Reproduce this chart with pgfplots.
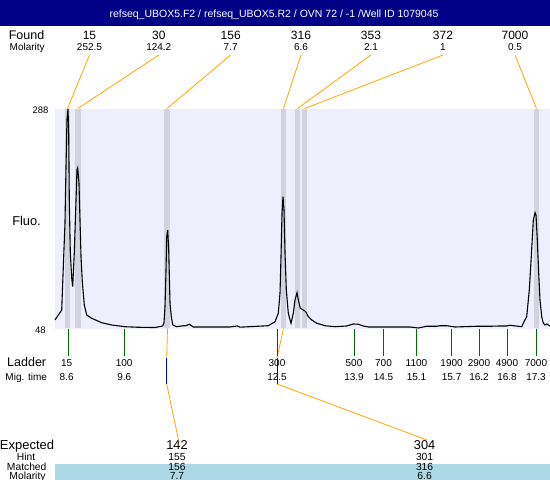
\documentclass[border=0pt]{standalone}
\usepackage{fontspec}
\setmainfont{Liberation Sans}
\usepackage{pgfplots}
\usepackage{pgfplotstable}
\pgfplotsset{compat=1.18}
\definecolor{hdr}{RGB}{0,0,135}
\definecolor{plotbg}{RGB}{238,238,252}
\definecolor{band}{RGB}{211,211,224}
\definecolor{conn}{RGB}{255,165,0}
\definecolor{ladg}{RGB}{0,105,0}
\definecolor{matchbg}{RGB}{173,216,230}
\newcommand\fs[1]{\fontsize{#1}{#1}\selectfont}

% electropherogram trace: migration time (s) vs fluorescence
\pgfplotstableread{
t v
8.358 56.8
8.483 67.7
8.513 115.2
8.544 163.1
8.563 224.8
8.581 276.0
8.600 288.0
8.613 261.7
8.624 188.3
8.643 130.2
8.669 102.8
8.687 93.3
8.717 130.2
8.743 177.3
8.767 221.2
8.780 223.4
8.804 206.9
8.823 166.4
8.842 126.1
8.866 98.7
8.903 73.2
8.948 62.2
9.041 58.6
9.226 53.8
9.412 51.3
9.659 49.4
9.907 48.8
10.217 48.5
10.360 50.2
10.384 53.5
10.403 71.3
10.422 111.6
10.435 148.1
10.453 155.4
10.472 133.5
10.496 75.4
10.520 60.4
10.546 51.3
10.620 49.4
10.743 50.5
10.793 50.5
10.855 52.1
10.929 49.1
11.611 49.1
11.747 50.2
11.797 48.9
12.323 50.5
12.448 54.9
12.509 64.1
12.541 86.4
12.559 126.1
12.578 173.7
12.596 191.9
12.615 177.3
12.634 129.9
12.658 89.6
12.695 64.1
12.745 53.2
12.788 64.1
12.819 78.7
12.857 86.7
12.881 78.7
12.918 69.6
12.974 67.7
13.018 65.9
13.067 60.4
13.130 56.8
13.223 53.2
13.377 50.5
13.563 49.4
13.780 50.2
13.903 52.4
13.996 52.1
14.089 50.2
14.182 49.1
14.957 49.1
15.111 48.0
15.267 49.9
15.453 49.9
15.515 50.5
15.639 50.5
15.793 49.1
16.197 49.9
16.444 49.9
16.630 50.2
16.754 50.2
16.816 51.0
17.033 49.4
17.076 54.9
17.126 60.4
17.174 89.6
17.200 115.2
17.225 140.8
17.249 166.4
17.281 174.4
17.299 171.8
17.323 144.4
17.349 108.0
17.373 78.7
17.405 60.4
17.435 53.2
17.466 51.3
17.498 52.4
17.559 50.2
}\trace

\begin{document}
\begin{tikzpicture}
% ---------- canvas axis (pixel coordinates, y downward) ----------
\begin{axis}[name=canvas, at={(0,0)}, anchor=south west,
  width=550pt, height=480pt, scale only axis,
  xmin=0, xmax=550, ymin=0, ymax=480, y dir=reverse,
  hide axis, clip=false]
  \coordinate (cnw) at (axis cs:0,0);
  \coordinate (cse) at (axis cs:550,480);
  \coordinate (pnw) at (axis cs:55,109);
  % header
  \fill[hdr] (axis cs:0,0) rectangle (axis cs:550,26);
  \node[white, anchor=base, inner sep=0, font=\fs{10.5}] at (axis cs:274,17.5)
    {refseq\_UBOX5.F2 / refseq\_UBOX5.R2 / OVN 72 / -1 /Well ID 1079045};
  % plot background
  \fill[plotbg] (axis cs:55,109) rectangle (axis cs:550,328.5);
  % matched band
  \fill[matchbg] (axis cs:55,463.5) rectangle (axis cs:550,480);
  % Found / Molarity rows
  \begin{scope}[every node/.style={anchor=base, inner sep=0}]
  \node[font=\fs{12.5}] at (axis cs:26.5,39) {Found};
  \node[font=\fs{10}] at (axis cs:27.2,50) {Molarity};
  \node[font=\fs{12}] at (axis cs:89.5,39) {15};
  \node[font=\fs{12}] at (axis cs:158.8,39) {30};
  \node[font=\fs{12}] at (axis cs:230.7,39) {156};
  \node[font=\fs{12}] at (axis cs:301,39) {316};
  \node[font=\fs{12}] at (axis cs:371,39) {353};
  \node[font=\fs{12}] at (axis cs:443,39) {372};
  \node[font=\fs{12}] at (axis cs:515,39) {7000};
  \node[font=\fs{10}] at (axis cs:89.5,50.5) {252.5};
  \node[font=\fs{10}] at (axis cs:158.8,50.5) {124.2};
  \node[font=\fs{10}] at (axis cs:230.7,50.5) {7.7};
  \node[font=\fs{10}] at (axis cs:301,50.5) {6.6};
  \node[font=\fs{10}] at (axis cs:371,50.5) {2.1};
  \node[font=\fs{10}] at (axis cs:443,50.5) {1};
  \node[font=\fs{10}] at (axis cs:515,50.5) {0.5};
  % y labels
  \node[font=\fs{9.5}] at (axis cs:40.5,113.3) {288};
  \node[font=\fs{9.5}] at (axis cs:40.5,333.3) {48};
  \node[font=\fs{12.8}] at (axis cs:26.5,225) {Fluo.};
  % ladder rows
  \node[font=\fs{12.5}] at (axis cs:26.7,366.7) {Ladder};
  \node[font=\fs{10}] at (axis cs:26.2,380) {Mig. time};
  \node[font=\fs{10}] at (axis cs:66.7,366.7) {15};
  \node[font=\fs{10}] at (axis cs:124.2,366.7) {100};
  \node[font=\fs{10}] at (axis cs:277,366.7) {300};
  \node[font=\fs{10}] at (axis cs:354,366.7) {500};
  \node[font=\fs{10}] at (axis cs:383.5,366.7) {700};
  \node[font=\fs{10}] at (axis cs:416.5,366.7) {1100};
  \node[font=\fs{10}] at (axis cs:451.6,366.7) {1900};
  \node[font=\fs{10}] at (axis cs:479,366.7) {2900};
  \node[font=\fs{10}] at (axis cs:507,366.7) {4900};
  \node[font=\fs{10}] at (axis cs:536,366.7) {7000};
  \node[font=\fs{10}] at (axis cs:66.7,380) {8.6};
  \node[font=\fs{10}] at (axis cs:124.2,380) {9.6};
  \node[font=\fs{10}] at (axis cs:277,380) {12.5};
  \node[font=\fs{10}] at (axis cs:354,380) {13.9};
  \node[font=\fs{10}] at (axis cs:383.5,380) {14.5};
  \node[font=\fs{10}] at (axis cs:416.5,380) {15.1};
  \node[font=\fs{10}] at (axis cs:451.6,380) {15.7};
  \node[font=\fs{10}] at (axis cs:479,380) {16.2};
  \node[font=\fs{10}] at (axis cs:507,380) {16.8};
  \node[font=\fs{10}] at (axis cs:536,380) {17.3};
  % expected rows
  \node[font=\fs{13}] at (axis cs:27,449.5) {Expected};
  \node[font=\fs{12.8}] at (axis cs:177,449.5) {142};
  \node[font=\fs{12.8}] at (axis cs:424.6,449.5) {304};
  \node[font=\fs{10.3}] at (axis cs:26,460) {Hint};
  \node[font=\fs{10.3}] at (axis cs:177,460) {155};
  \node[font=\fs{10.3}] at (axis cs:424.6,460) {301};
  \node[font=\fs{10.3}] at (axis cs:26.7,470.3) {Matched};
  \node[font=\fs{10.3}] at (axis cs:177,470.3) {156};
  \node[font=\fs{10.3}] at (axis cs:424.6,470.3) {316};
  \node[font=\fs{10.3}] at (axis cs:27.5,479.3) {Molarity};
  \node[font=\fs{10.3}] at (axis cs:177,479.3) {7.7};
  \node[font=\fs{10.3}] at (axis cs:424.6,479.3) {6.6};
  \end{scope}
  % connectors top
  \begin{scope}[conn, line width=0.8pt]
  \draw (axis cs:89.5,55) -- (axis cs:67.5,108.5);
  \draw (axis cs:158.8,55) -- (axis cs:77.8,108.5);
  \draw (axis cs:230.7,55) -- (axis cs:167,108.5);
  \draw (axis cs:301,55) -- (axis cs:283.5,108.5);
  \draw (axis cs:371,55) -- (axis cs:297.5,108.5);
  \draw (axis cs:443,55) -- (axis cs:304.6,108.5);
  \draw (axis cs:515,55) -- (axis cs:536.5,108.5);
  % connectors bottom
  \draw (axis cs:167.5,328.5) -- (axis cs:166.7,358);
  \draw (axis cs:166.7,384) -- (axis cs:178.5,440);
  \draw (axis cs:283.5,328.5) -- (axis cs:277,358);
  \draw (axis cs:277,384) -- (axis cs:427,440);
  \end{scope}
  \draw[blue, line width=0.8pt] (axis cs:166.7,358) -- (axis cs:166.7,384);
  \draw[blue, line width=0.8pt] (axis cs:277,358) -- (axis cs:277,384);
  % ladder ticks
  \begin{scope}[ladg, line width=0.8pt]
  \draw (axis cs:68.4,328.5) -- (axis cs:68.4,356);
  \draw (axis cs:124.4,328.5) -- (axis cs:124.4,356);
  \draw (axis cs:277.3,328.5) -- (axis cs:277.3,356);
  \draw (axis cs:354,328.5) -- (axis cs:354,356);
  \draw (axis cs:383.5,328.5) -- (axis cs:383.5,356);
  \draw (axis cs:416.5,328.5) -- (axis cs:416.5,356);
  \draw (axis cs:451.6,328.5) -- (axis cs:451.6,356);
  \draw (axis cs:479,328.5) -- (axis cs:479,356);
  \draw (axis cs:507,328.5) -- (axis cs:507,356);
  \draw (axis cs:536,328.5) -- (axis cs:536,356);
  \end{scope}
\end{axis}
% ---------- data axis ----------
\begin{axis}[at={(pnw)}, anchor=north west,
  width=495pt, height=219pt, scale only axis,
  xmin=8.3584, xmax=17.559, ymin=48, ymax=288,
  hide axis, clip=false]
  \addplot[fill=band, draw=none] coordinates {(8.544,48) (8.544,288) (8.637,288) (8.637,48)} -- cycle;
  \addplot[fill=band, draw=none] coordinates {(8.730,48) (8.730,288) (8.836,288) (8.836,48)} -- cycle;
  \addplot[fill=band, draw=none] coordinates {(10.384,48) (10.384,288) (10.496,288) (10.496,48)} -- cycle;
  \addplot[fill=band, draw=none] coordinates {(12.559,48) (12.559,288) (12.652,288) (12.652,48)} -- cycle;
  \addplot[fill=band, draw=none] coordinates {(12.819,48) (12.819,288) (12.912,288) (12.912,48)} -- cycle;
  \addplot[fill=band, draw=none] coordinates {(12.955,48) (12.955,288) (13.042,288) (13.042,48)} -- cycle;
  \addplot[fill=band, draw=none] coordinates {(17.262,48) (17.262,288) (17.355,288) (17.355,48)} -- cycle;
  \addplot[black, line width=1.1pt, mark=none] table[x=t, y=v] {\trace};
\end{axis}
\pgfresetboundingbox
\path[use as bounding box] (cnw) rectangle (cse);
\end{tikzpicture}
\end{document}
